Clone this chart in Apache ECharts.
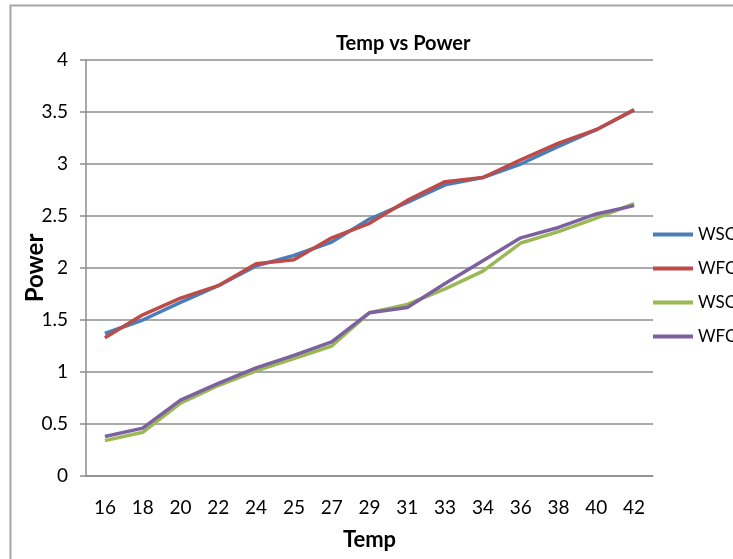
<!DOCTYPE html>
<html style="height:100%">
<head>
    <meta charset="utf-8">
    <script type="text/javascript" src="https://cdn.jsdelivr.net/npm/echarts@6/dist/echarts.min.js"></script>
    <title>Temp vs Power</title>
</head>
<body style="height: 100%; margin: 0; background: #fff">
    <div id="container" style="width:733px; height:559px"></div>
    <script type="text/javascript">
    var myChart = echarts.init(document.getElementById('container'));

    // x 轴类别（温度）
    const temps = ['16', '18', '20', '22', '24', '25', '27', '29', '31', '33', '34', '36', '38', '40', '42'];

    // 四条曲线的数值
    const wsc1 = [1.37, 1.50, 1.67, 1.83, 2.02, 2.12, 2.25, 2.47, 2.63, 2.80, 2.87, 3.00, 3.17, 3.33, 3.52];
    const wfc1 = [1.33, 1.55, 1.71, 1.83, 2.04, 2.08, 2.29, 2.43, 2.65, 2.83, 2.87, 3.04, 3.20, 3.33, 3.52];
    const wsc2 = [0.34, 0.42, 0.70, 0.87, 1.01, 1.13, 1.25, 1.57, 1.65, 1.80, 1.97, 2.24, 2.35, 2.48, 2.62];
    const wfc2 = [0.38, 0.46, 0.73, 0.89, 1.04, 1.16, 1.29, 1.57, 1.62, 1.85, 2.07, 2.29, 2.39, 2.52, 2.60];

    // 图例名（两组同名，第二组末尾加空格区分）
    const names = ['WSC', 'WFC', 'WSC ', 'WFC '];
    const colors = ['#4a7ebb', '#be4b48', '#98b954', '#7d60a0'];

    const font = 'Lato, "Open Sans", sans-serif';

    function makeSeries(name, data, color) {
        return {
            name: name,
            type: 'line',
            data: data,
            symbol: 'none',
            lineStyle: { width: 3.5, color: color },
            itemStyle: { color: color }
        };
    }

    var option = {
        animation: false,
        textStyle: { fontFamily: font },
        graphic: [{
            type: 'rect',
            shape: { x: 10.5, y: 5.5, width: 800, height: 600 },
            style: { fill: 'none', stroke: '#a6a6a6', lineWidth: 2 },
            silent: true
        }],
        title: {
            text: 'Temp vs Power',
            left: 331,
            top: 29,
            textStyle: { fontSize: 20, fontWeight: 'bold', color: '#000', fontFamily: font }
        },
        legend: {
            orient: 'vertical',
            left: 648,
            top: 221,
            itemWidth: 40,
            itemHeight: 4,
            itemGap: 17,
            icon: 'rect',
            data: names,
            textStyle: { fontSize: 17, color: '#000', fontFamily: font }
        },
        grid: { left: 86, right: 80, top: 60, bottom: 83 },
        xAxis: {
            type: 'category',
            data: temps,
            boundaryGap: true,
            name: 'Temp',
            nameLocation: 'middle',
            nameGap: 53,
            nameTextStyle: { fontSize: 22, fontWeight: 'bold', color: '#000' },
            axisLine: { lineStyle: { color: '#8c8c8c', width: 1.5 } },
            axisTick: { length: 7, alignWithLabel: false, lineStyle: { color: '#8c8c8c', width: 1.5 } },
            axisLabel: { fontSize: 19, color: '#000', margin: 22 }
        },
        yAxis: {
            type: 'value',
            min: 0,
            max: 4,
            interval: 0.5,
            name: 'Power',
            nameLocation: 'middle',
            nameGap: 39,
            nameMoveOverlap: false,
            nameTextStyle: { fontSize: 24, fontWeight: 'bold', color: '#000' },
            axisLine: { show: true, lineStyle: { color: '#8c8c8c', width: 1.5 } },
            axisTick: { show: true, length: 6, lineStyle: { color: '#8c8c8c', width: 1.5 } },
            axisLabel: { fontSize: 19, color: '#000', margin: 18 },
            splitLine: { lineStyle: { color: '#8c8c8c', width: 1.5 } }
        },
        series: [
            makeSeries(names[0], wsc1, colors[0]),
            makeSeries(names[1], wfc1, colors[1]),
            makeSeries(names[2], wsc2, colors[2]),
            makeSeries(names[3], wfc2, colors[3])
        ]
    };

    myChart.setOption(option);
    </script>
</body>
</html>
